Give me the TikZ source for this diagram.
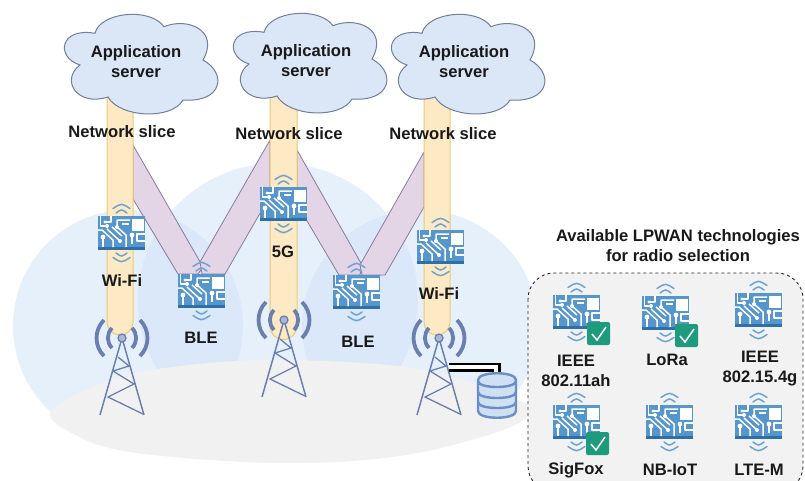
\documentclass[tikz,border=0pt]{standalone}
\usepackage{fontspec}
\setmainfont{Liberation Sans}
\definecolor{blobblue}{HTML}{CFE2F8}
\definecolor{groundgray}{HTML}{F1F1F1}
\definecolor{panelgray}{HTML}{F2F2F2}
\definecolor{slicey}{HTML}{FDE9C4}
\definecolor{sliceyline}{HTML}{E8CB75}
\definecolor{slicep}{HTML}{E3D5E6}
\definecolor{slicepline}{HTML}{877B9E}
\definecolor{cloudfill}{HTML}{DBE7F7}
\definecolor{cloudline}{HTML}{6F8098}
\definecolor{chipblue}{HTML}{5596CC}
\definecolor{chipdark}{HTML}{2F6FA8}
\definecolor{chiparc}{HTML}{6CA3D5}
\definecolor{towerc}{HTML}{6A7FB0}
\definecolor{okgreen}{HTML}{1E9A7C}
\definecolor{dbfill}{HTML}{CFE0F3}
\definecolor{dbline}{HTML}{6A8EC6}
\tikzset{
  x=1pt,y=-1pt,
  lbl/.style={font=\fontsize{16.6}{20}\selectfont\bfseries,text=black!90,inner sep=0pt,align=center},
  blobshape/.style={fill=blobblue,fill opacity=0.5,draw=none},
  yellowslice/.style={fill=slicey,draw=sliceyline,line width=1pt},
  purpleslice/.style={fill=slicep,draw=slicepline,line width=0.8pt,line join=round},
  trace/.style={draw=white,line width=1.5pt,line join=round},
  dot/.style={fill=white,draw=none},
  pics/chip/.style={code={
    \fill[chipblue] (0,0) rectangle (47,31);
    \fill[chipdark] (0,31) rectangle (47,33.5);
    \fill[white] (33.5,2.5) rectangle (45.5,14.5);
    \draw[trace] (2.5,0)--(2.5,10)--(9,10);
    \draw[trace] (13,0)--(13,6)--(7,6);
    \draw[trace] (0,14)--(4,14)--(15,24)--(15,31);
    \draw[trace] (5,21)--(5,31);
    \draw[trace] (9,13)--(22,25);
    \draw[trace] (14,11)--(24,20);
    \draw[trace] (32,4)--(19,4)--(19,11)--(28,19)--(28,31);
    \draw[trace] (24,8)--(31,8);
    \draw[trace] (34,19)--(34,28);
    \draw[trace] (47,18)--(39,18)--(39,25)--(47,25);
    \fill[dot] (9,10) circle (2); \fill[dot] (5,21) circle (2.4);
    \fill[dot] (22,25) circle (2); \fill[dot] (19,11) circle (2);
    \fill[dot] (34,19) circle (2.4); \fill[dot] (7,6) circle (1.6);
    \draw[chiparc,line width=1.5pt,line cap=round] (15,-7.5) .. controls (23.5,-13) .. (32,-7.5);
    \draw[chiparc,line width=1.5pt,line cap=round] (18,-3) .. controls (23.5,-7) .. (29,-3);
    \draw[chiparc,line width=1.5pt,line cap=round] (18,37) .. controls (23.5,41) .. (29,37);
    \draw[chiparc,line width=1.5pt,line cap=round] (15,41.5) .. controls (23.5,47) .. (32,41.5);
  }},
  pics/okmark/.style={code={
    \fill[okgreen,rounded corners=2pt] (0,0) rectangle (23,23);
    \draw[white,line width=1.5pt] (5,12)--(10,18)--(19,5);
  }},
  pics/tower/.style={code={
    \draw[towerc,line width=1.5pt,line join=round] (-22,77)--(0,0)--(22,77);
    \draw[towerc,line width=1.3pt] (-4,19)--(7,28)--(-9,33)--(12,46)--(-14,59)--(21,76);
    \draw[towerc,line width=3.8pt] (-10,-10) arc[start angle=-135,end angle=-225,radius=14.1];
    \draw[towerc,line width=3.8pt] (10,-10) arc[start angle=-45,end angle=45,radius=14.1];
    \draw[towerc,line width=3.8pt] (-18,-18) arc[start angle=-135,end angle=-225,radius=25.5];
    \draw[towerc,line width=3.8pt] (18,-18) arc[start angle=-45,end angle=45,radius=25.5];
    \filldraw[fill=towerc!55,draw=towerc,line width=1.3pt] (0,0) circle (4);
  }},
  pics/cloudy/.style={code={
    \filldraw[fill=cloudfill,draw=cloudline,line width=1pt]
      (95,33.3) .. controls (100,12) and (150,7) .. (164,26.7)
      .. controls (187,17) and (220,30) .. (203,60)
      .. controls (227,73) and (223,103) .. (183,100)
      .. controls (172,120) and (120,118) .. (108,97)
      .. controls (77,107) and (60,80) .. (80,65)
      .. controls (55,57) and (60,27) .. (95,33.3) -- cycle;
  }}
}
\begin{document}
\begin{tikzpicture}
\clip (0,0) rectangle (805,480);
\fill[white] (0,0) rectangle (805,480);
% background
\path[blobshape] (128,326) ellipse [x radius=115,y radius=116];
\path[blobshape] (278,300) ellipse [x radius=140,y radius=137];
\path[blobshape] (420,326) ellipse [x radius=118,y radius=116];
\fill[groundgray] plot[smooth cycle,tension=0.6] coordinates {(52,410) (110,380) (172,367) (275,360) (413,368) (505,395) (530,410) (503,430) (400,456) (275,463) (130,452) (70,432)};
% panel
\filldraw[fill=panelgray,draw=black!85,dashed,line width=0.9pt,rounded corners=26pt] (528,273) rectangle (803,492);
% slices
\path[purpleslice] (133,145)--(203,267)--(198,274)--(178,274)--(133,199)--cycle;
\path[purpleslice] (270,140)--(200,262)--(202,274)--(225,274)--(270,196)--cycle;
\path[purpleslice] (297,150)--(362,265)--(360,275)--(339,275)--(297,204)--cycle;
\path[purpleslice] (424,152)--(360,265)--(362,275)--(385,275)--(424,207)--cycle;
\path[yellowslice] (107,90)--(107,322) arc[start angle=180,end angle=0,radius=13] -- (133,90);
\path[yellowslice] (270,90)--(270,326) arc[start angle=180,end angle=0,radius=13.5] -- (297,90);
\path[yellowslice] (424,90)--(424,322) arc[start angle=180,end angle=0,radius=13] -- (450,90);
% clouds
\pic at (0,0) {cloudy};
\pic at (169,-1) {cloudy};
\pic at (327,0) {cloudy};
\node[lbl] (cl1) at (136,62) {Application\\server};
\node[lbl] (cl2) at (306,61) {Application\\server};
\node[lbl] (cl3) at (464,62) {Application\\server};
\node[lbl] (ns1) at (122,132) {Network slice};
\node[lbl] (ns2) at (289,134) {Network slice};
\node[lbl] (ns3) at (443,134) {Network slice};
% towers
\pic at (122,338) {tower};
\pic at (284,320) {tower};
\pic at (439,338) {tower};
% database and link
\coordinate (linkA) at (449,367);
\coordinate (dbTop) at (496,376);
\draw[black,line width=2.5pt,double=white,double distance=4pt,line join=miter] (linkA) -| (dbTop);
\filldraw[fill=dbfill,draw=dbline,line width=2.4pt,rounded corners=1pt]
  (478,381) -- (478,410) .. controls (478,420) and (516,420) .. (516,410) -- (516,381)
  .. controls (516,371) and (478,371) .. (478,381) -- cycle;
\draw[dbline,line width=2.4pt] (478,381) .. controls (478,389) and (516,389) .. (516,381);
\draw[dbline,line width=2.4pt] (478,392) .. controls (478,400) and (516,400) .. (516,392);
\draw[dbline,line width=2.4pt] (478,402) .. controls (478,410) and (516,410) .. (516,402);
% main chips
\pic at (98,216) {chip};
\pic at (178,274) {chip};
\pic at (260,187) {chip};
\pic at (333,275) {chip};
\pic at (417,230) {chip};
\node[lbl] (wifi1) at (122,280) {Wi-Fi};
\node[lbl] (ble1) at (201,338) {BLE};
\node[lbl] (fiveg) at (283,252) {5G};
\node[lbl] (ble2) at (358,342) {BLE};
\node[lbl] (wifi2) at (439,293) {Wi-Fi};
% panel contents
\node[lbl] (title) at (678,246) {Available LPWAN technologies\\for radio selection};
\pic at (553,295) {chip};
\pic at (642,296) {chip};
\pic at (735,293) {chip};
\pic at (553,405) {chip};
\pic at (646,405) {chip};
\pic at (735,405) {chip};
\pic at (587,322) {okmark};
\pic at (675,324) {okmark};
\pic at (586,432) {okmark};
\node[lbl] (t1) at (576,370.5) {IEEE\\802.11ah};
\node[lbl] (t2) at (667,360) {LoRa};
\node[lbl] (t3) at (760,368.5) {IEEE\\802.15.4g};
\node[lbl] (t4) at (576,470) {SigFox};
\node[lbl] (t5) at (670,470) {NB-IoT};
\node[lbl] (t6) at (759,470) {LTE-M};
\end{tikzpicture}
\end{document}
